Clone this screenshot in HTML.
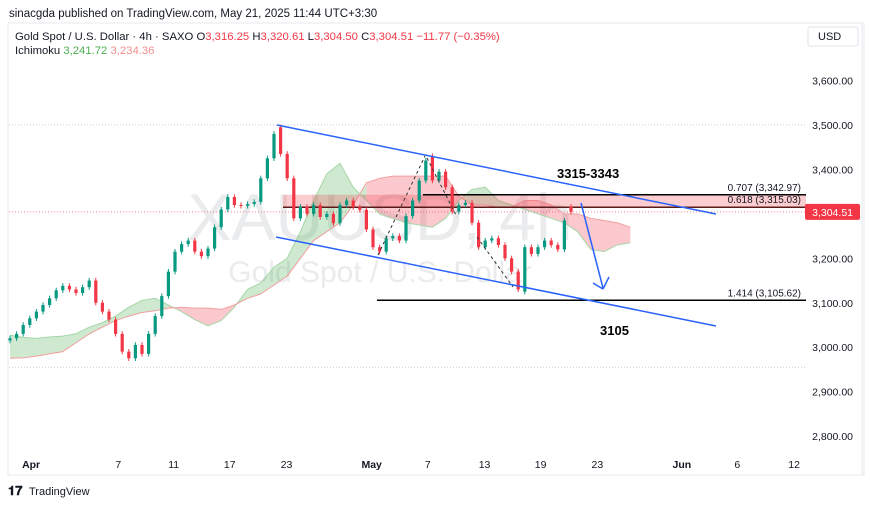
<!DOCTYPE html>
<html><head><meta charset="utf-8"><style>
body{margin:0;background:#fff;font-family:"Liberation Sans",sans-serif;}
#wrap{position:relative;width:870px;height:505px;overflow:hidden;background:#fff;}
svg text{font-family:"Liberation Sans",sans-serif;}
</style></head><body>
<div id="wrap">
<svg id="chart" width="870" height="505" viewBox="0 0 870 505">
  <text x="9" y="17" font-size="11.5" fill="#131722">sinacgda published on TradingView.com, May 21, 2025 11:44 UTC+3:30</text>
  <rect x="8" y="23" width="856" height="452" fill="none" stroke="#e6e8ec"/>
  <line x1="862" y1="23" x2="862" y2="475" stroke="#e6e8ec"/>
  <g id="watermark">
    <text x="380" y="240" font-size="66" fill="#d5d7dc" fill-opacity="0.5" text-anchor="middle">XAUUSD, 4h</text>
    <text x="380" y="282" font-size="30" fill="#d5d7dc" fill-opacity="0.5" text-anchor="middle">Gold Spot / U.S. Dollar</text>
  </g>
  <g id="grid"></g>
  <g id="cloud"></g>
  <g id="fib"></g>
  <g id="candles"></g>
  <g id="draw"></g>
  <g id="axes"></g>
  <g font-size="11.3">
    <text x="15" y="40"><tspan fill="#131722">Gold Spot / U.S. Dollar · 4h · SAXO  O</tspan><tspan fill="#f23645">3,316.25  </tspan><tspan fill="#131722">H</tspan><tspan fill="#f23645">3,320.61  </tspan><tspan fill="#131722">L</tspan><tspan fill="#f23645">3,304.50  </tspan><tspan fill="#131722">C</tspan><tspan fill="#f23645">3,304.51  −11.77 (−0.35%)</tspan></text>
    <text x="15" y="54"><tspan fill="#131722">Ichimoku  </tspan><tspan fill="#4caf50">3,241.72  </tspan><tspan fill="#f28e8e">3,234.36</tspan></text>
  </g>
  <g>
    <rect x="808" y="27" width="50" height="19" rx="2" fill="#fff" stroke="#e0e3eb"/>
    <text x="818" y="40" font-size="11" fill="#131722">USD</text>
  </g>
  <g>
    <text x="8" y="495" font-size="13" font-weight="bold" fill="#131722">𝟏𝟕</text>
    <text x="29" y="495" font-size="11" fill="#131722">TradingView</text>
  </g>
</svg>
</div>
<script>
const priceTicks=[3600,3500,3400,3300,3200,3100,3000,2900,2800];
const priceTickLabels=["3,600.00","3,500.00","3,400.00","3,300.00","3,200.00","3,100.00","3,000.00","2,900.00","2,800.00"];
const dateLabels=["Apr","7","11","17","23","May","7","13","19","23","Jun","6","12"];
const dateBarIndex=[3.2,16.4,24.8,33.3,41.9,54.8,63.3,71.9,80.4,89.0,101.8,110.2,118.8];
const closes=[3020,3030,3050,3065,3080,3095,3110,3128,3138,3130,3122,3135,3150,3100,3080,3062,3030,2990,2975,3005,2985,3030,3070,3115,3170,3215,3232,3240,3215,3205,3222,3270,3310,3338,3320,3318,3322,3327,3380,3425,3480,3435,3380,3290,3316,3300,3320,3293,3300,3279,3320,3330,3315,3309,3265,3225,3215,3245,3250,3240,3295,3330,3375,3420,3375,3395,3360,3305,3320,3325,3280,3225,3240,3245,3230,3200,3170,3130,3225,3210,3225,3240,3230,3220,3285,3304.51];
const opens=[3015,3020,3030,3050,3065,3080,3095,3110,3128,3138,3130,3122,3135,3150,3100,3080,3062,3030,2990,2975,3005,2985,3030,3070,3115,3170,3215,3232,3240,3215,3205,3222,3270,3310,3338,3320,3318,3322,3327,3380,3425,3495,3435,3380,3290,3316,3300,3320,3293,3300,3279,3320,3330,3315,3309,3265,3225,3215,3245,3250,3240,3295,3330,3375,3430,3375,3395,3360,3305,3320,3325,3280,3225,3240,3245,3230,3200,3170,3125,3225,3210,3225,3240,3230,3220,3316.25];
const spanA=[3027,3022,3020,3023,3025,3030,3045,3055,3070,3090,3105,3110,3095,3080,3062,3048,3060,3090,3130,3145,3180,3200,3260,3330,3390,3414,3360,3330,3300,3290,3280,3275,3270,3290,3330,3355,3360,3330,3320,3310,3300,3290,3280,3260,3220,3215,3230,3235];
const spanB=[2975,2976,2980,2985,2990,3010,3030,3045,3060,3070,3078,3082,3088,3090,3088,3088,3085,3095,3110,3120,3140,3160,3200,3240,3260,3280,3320,3370,3380,3385,3385,3385,3385,3385,3340,3320,3320,3315,3315,3330,3330,3320,3300,3300,3290,3285,3280,3270];
const fibLevels=[3342.97,3315.03,3105.62];
const fibLabels=["0.707 (3,342.97)","0.618 (3,315.03)","1.414 (3,105.62)"];
const lastPrice=3304.51;

const NS="http://www.w3.org/2000/svg";
function y(p){return 125+(3500-p)*0.4444;}
function xb(i){return 10+i*6.6;}
function xc(j){return 10+j*13.2;}
function mk(tag,attrs,parent,text){const e=document.createElementNS(NS,tag);for(const k in attrs)e.setAttribute(k,attrs[k]);if(text!==undefined)e.textContent=text;document.getElementById(parent).appendChild(e);return e;}

let g=mk('line',{x1:9,x2:806,y1:y(3500),y2:y(3500),stroke:'#c8cbd2','stroke-dasharray':'1 2'},'grid');

g=mk('line',{x1:9,x2:806,y1:y(2955),y2:y(2955),stroke:'#c8cbd2','stroke-dasharray':'1 2'},'grid');

g=mk('line',{x1:9,x2:806,y1:y(lastPrice),y2:y(lastPrice),stroke:'#f23645','stroke-dasharray':'1 2','stroke-opacity':0.6},'grid');


for(let j=0;j<spanA.length-1;j++){
  const up=(spanA[j]+spanA[j+1])>=(spanB[j]+spanB[j+1]);
  const p=mk('polygon',{points:`${xc(j)},${y(spanA[j])} ${xc(j+1)},${y(spanA[j+1])} ${xc(j+1)},${y(spanB[j+1])} ${xc(j)},${y(spanB[j])}`,fill:up?'rgba(76,175,80,0.27)':'rgba(242,54,69,0.27)'},'cloud');
  
}
let la=mk('polyline',{points:spanA.map((v,j)=>xc(j)+','+y(v)).join(' '),fill:'none',stroke:'#a5d6a7','stroke-width':1},'cloud');

let lb=mk('polyline',{points:spanB.map((v,j)=>xc(j)+','+y(v)).join(' '),fill:'none',stroke:'#f0a0a0','stroke-width':1},'cloud');


let z=mk('rect',{x:283,y:y(fibLevels[0]),width:523,height:y(fibLevels[1])-y(fibLevels[0]),fill:'rgba(242,54,69,0.25)'},'fib');

const fibStarts=[423,283,377];
fibLevels.forEach((v,k)=>{
  const l=mk('line',{x1:fibStarts[k],x2:806,y1:y(v),y2:y(v),stroke:k==1?'#5a1a1a':'#000','stroke-width':1.5},'fib');
  
  const t=mk('text',{x:801,y:y(v)-4,'font-size':10,fill:'#131722','text-anchor':'end'},'fib',fibLabels[k]);
  
});

closes.forEach((c,i)=>{
  const o=opens[i],up=c>=o,col=up?'#089981':'#f23645',x=xb(i);
  const hi=Math.max(o,c)+6,lo=Math.min(o,c)-6;
  const w=mk('line',{x1:x,x2:x,y1:y(hi),y2:y(lo),stroke:col,'stroke-width':1},'candles');
  
  const b=mk('rect',{x:x-1.6,y:y(Math.max(o,c)),width:3.2,height:Math.max(1,Math.abs(y(o)-y(c))),fill:col},'candles');
  
});

function ln(x1,y1,x2,y2,st,name,extra){const l=mk('line',Object.assign({x1,y1,x2,y2,stroke:st,'stroke-width':1.5},extra||{}),'draw');return l;}
ln(277,125,716,214,'#2962ff','channel-upper-line');
ln(276,237,716,326,'#2962ff','channel-lower-line');
ln(378,255,425,156,'#333','dashed-swing-up',{'stroke-width':1,'stroke-dasharray':'3 3'});
ln(427,158,457,217,'#333','dashed-swing-down',{'stroke-width':1,'stroke-dasharray':'3 3'});
ln(477,237,513,287,'#333','dashed-swing-down-2',{'stroke-width':1,'stroke-dasharray':'3 3'});
ln(581,203,603,288,'#2962ff','forecast-arrow-shaft');
ln(593,283,603,289,'#2962ff','forecast-arrowhead-left');
ln(603,289,609,277,'#2962ff','forecast-arrowhead-right');
let t1=mk('text',{x:557,y:178,'font-size':13,'font-weight':'bold',fill:'#000'},'draw','3315-3343');

let t2=mk('text',{x:600,y:335,'font-size':13,'font-weight':'bold',fill:'#000'},'draw','3105');


priceTicks.forEach((p,k)=>{
  const t=mk('text',{x:853,y:y(p)+4,'font-size':10.5,fill:'#131722','text-anchor':'end'},'axes',priceTickLabels[k]);
  
});
dateLabels.forEach((d,k)=>{
  const t=mk('text',{x:xb(dateBarIndex[k]),y:468,'font-size':10.5,fill:'#131722','text-anchor':'middle','font-weight':(d=='Apr'||d=='May'||d=='Jun')?'bold':'normal'},'axes',d);
  
});
let pr=mk('rect',{x:805,y:y(lastPrice)-8,width:55,height:16,rx:2,fill:'#f23645'},'axes');

let pt=mk('text',{x:853,y:y(lastPrice)+4,'font-size':10.5,fill:'#fff','text-anchor':'end'},'axes','3,304.51');

</script>
</body></html>
